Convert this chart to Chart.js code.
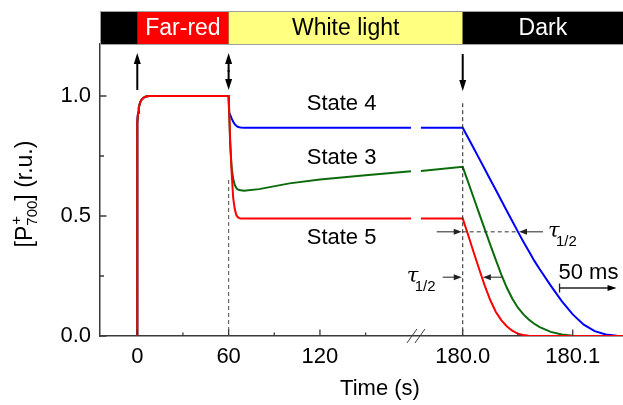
<!DOCTYPE html>
<html>
<head>
<meta charset="utf-8">
<script src="https://cdn.jsdelivr.net/npm/chart.js@4.4.1/dist/chart.umd.min.js"></script>
<style>
  html, body { margin: 0; padding: 0; background: #fff; }
  #chart { display: block; }
</style>
</head>
<body>
<canvas id="chart" width="623" height="405"></canvas>
<script>
// Far-red rise, shared by all three states (s)
const riseTime  = [0, 0, 0.5, 1, 1.5, 2, 3, 4, 5, 6.5, 8];
const riseLevel = [0, 0.89, 0.93, 0.952, 0.965, 0.975, 0.986, 0.992, 0.996, 0.999, 1.0];

// White light (s)
const lightTime   = [60, 60.3, 61, 62, 63, 64, 65, 66, 67, 68, 70, 80, 100, 120, 150, 179.8];
const state4Light = [1.0, 0.93, 0.922, 0.907, 0.893, 0.883, 0.876, 0.872, 0.870, 0.869, 0.868, 0.868, 0.868, 0.868, 0.868, 0.868];
const state3Light = [1.0, 0.95, 0.80, 0.70, 0.655, 0.63, 0.617, 0.611, 0.608, 0.607, 0.605, 0.612, 0.636, 0.652, 0.670, 0.686];
const state5Light = [1.0, 0.95, 0.82, 0.68, 0.575, 0.53, 0.505, 0.495, 0.491, 0.49, 0.49, 0.49, 0.49, 0.49, 0.49, 0.49];

// Dark relaxation, ms after the light goes off
const darkTime   = [-38, 0, 5, 10, 15, 20, 25, 30, 35, 40, 45, 50, 55, 60, 65, 70, 80, 90, 100, 110, 120, 130, 140, 146];
const state4Dark = [0.868, 0.868, 0.825, 0.782, 0.739, 0.696, 0.652, 0.609, 0.566, 0.522, 0.479, 0.436, 0.394, 0.354, 0.314, 0.278, 0.210, 0.145, 0.090, 0.047, 0.020, 0.006, 0.001, 0];
const state3Dark = [0.688, 0.705, 0.640, 0.575, 0.510, 0.445, 0.381, 0.318, 0.257, 0.202, 0.156, 0.119, 0.091, 0.069, 0.051, 0.037, 0.017, 0.006, 0.001, 0, 0, 0, 0, 0];
const state5Dark = [0.49, 0.49, 0.42, 0.348, 0.278, 0.210, 0.150, 0.101, 0.066, 0.041, 0.022, 0.010, 0.004, 0.001, 0, 0, 0, 0, 0, 0, 0, 0, 0, 0];

const stateNames  = ['State 5', 'State 3', 'State 4'];
const stateColors = ['#ff0000', '#0b6b0b', '#0000ff'];

// light regime bar
const phaseNames  = ['Far-red', 'White light', 'Dark'];
const phaseStart  = [0, 60, 180];
const phaseFill   = ['#ff0000', '#ffff80', '#000000'];
const phaseInk    = ['#ffffff', '#000000', '#ffffff'];

const xTickTimes  = [0, 60, 120, 180, 180.1];
const xTickLabels = ['0', '60', '120', '180.0', '180.1'];
const xMinorTimes = [30, 90, 150, 180.05];
const yTickValues = [0, 0.5, 1.0];
const yMinorValues = [0.25, 0.75];

// broken time axis: seconds up to the break, then a stretched ms scale
const darkOrigin = 213.8;
const msUnit = 0.7228;
const darkAxis = ms => darkOrigin + ms * msUnit;
const toAxis = s => s < 180 ? s : darkAxis((s - 180) * 1000);

const sans = '"Liberation Sans", Arial, sans-serif';
const axisColor = '#3a3a3a';

function series(light, dark) {
  const pts = riseTime.map((t, i) => ({x: toAxis(t), y: riseLevel[i]}));
  lightTime.forEach((t, i) => pts.push({x: toAxis(t), y: light[i]}));
  pts.push({x: (toAxis(lightTime[lightTime.length - 1]) + darkAxis(darkTime[0])) / 2, y: null});
  darkTime.forEach((ms, i) => pts.push({x: darkAxis(ms), y: dark[i]}));
  return pts;
}

// time (ms) where a decay first falls to the given level
function crossing(levels, target) {
  for (let i = 1; i < darkTime.length - 1; i++) {
    if (levels[i] >= target && levels[i + 1] < target) {
      const f = (levels[i] - target) / (levels[i] - levels[i + 1]);
      return darkTime[i] + f * (darkTime[i + 1] - darkTime[i]);
    }
  }
  return darkTime[darkTime.length - 1];
}

function arrow(ctx, x1, y1, x2, y2, head, half) {
  const a = Math.atan2(y2 - y1, x2 - x1);
  const c = Math.cos(a), s = Math.sin(a);
  ctx.beginPath();
  ctx.moveTo(x1, y1);
  ctx.lineTo(x2 - c * head * 0.7, y2 - s * head * 0.7);
  ctx.stroke();
  ctx.beginPath();
  ctx.moveTo(x2, y2);
  ctx.lineTo(x2 - head * c + half * s, y2 - head * s - half * c);
  ctx.lineTo(x2 - head * c - half * s, y2 - head * s + half * c);
  ctx.closePath();
  ctx.fill();
}

const decorations = {
  id: 'decorations',
  afterDatasetsDraw(chart) {
    const {ctx, chartArea: area, scales: {x, y}} = chart;
    const px = v => x.getPixelForValue(v);
    const py = v => y.getPixelForValue(v);
    ctx.save();

    // light regime bar
    const barTop = 11;
    ctx.fillStyle = '#000';
    ctx.fillRect(area.left, barTop, area.right - area.left, area.top - barTop);
    ctx.font = '23px ' + sans;
    ctx.textAlign = 'center';
    ctx.textBaseline = 'middle';
    phaseNames.forEach((name, i) => {
      const x0 = px(toAxis(phaseStart[i]));
      const x1 = i + 1 < phaseStart.length ? px(toAxis(phaseStart[i + 1])) : area.right;
      ctx.fillStyle = phaseFill[i];
      ctx.fillRect(x0, barTop, x1 - x0, area.top - barTop);
      ctx.fillStyle = phaseInk[i];
      ctx.fillText(name, (x0 + x1) / 2, (barTop + area.top) / 2 + 1);
    });
    ctx.strokeStyle = '#a0a0a0';
    ctx.lineWidth = 1;
    ctx.strokeRect(area.left + 0.5, barTop + 0.5, area.right - area.left, area.top - barTop);

    // switching arrows
    ctx.strokeStyle = '#000';
    ctx.fillStyle = '#000';
    ctx.lineWidth = 2;
    const xOn = px(toAxis(0)), xWhite = px(toAxis(60)), xOff = px(darkAxis(0));
    arrow(ctx, xOn, area.top + 46, xOn, area.top + 9, 11, 3.5);
    arrow(ctx, xWhite, area.top + 28, xWhite, area.top + 9, 11, 3.5);
    arrow(ctx, xWhite, area.top + 26, xWhite, area.top + 46, 11, 3.5);
    arrow(ctx, xOff, area.top + 10, xOff, area.top + 47, 11, 3.5);

    // dashed markers at the light switches
    ctx.lineWidth = 1.2;
    ctx.setLineDash([4, 3]);
    ctx.strokeStyle = '#6a6a6a';
    ctx.beginPath();
    ctx.moveTo(xWhite, py(0.65));
    ctx.lineTo(xWhite, area.bottom);
    ctx.stroke();
    ctx.strokeStyle = '#222';
    ctx.lineWidth = 1;
    ctx.beginPath();
    ctx.moveTo(xOff, py(0.97));
    ctx.lineTo(xOff, area.bottom);
    ctx.stroke();

    // half-time of State 4
    const half4 = state4Dark[1] / 2;
    const x4 = px(darkAxis(crossing(state4Dark, half4)));
    const yHalf4 = py(half4);
    ctx.strokeStyle = '#333';
    ctx.beginPath();
    ctx.moveTo(xOff, yHalf4);
    ctx.lineTo(x4, yHalf4);
    ctx.stroke();
    ctx.setLineDash([]);
    ctx.fillStyle = '#222';
    ctx.strokeStyle = '#222';
    arrow(ctx, xOff - 26, yHalf4, xOff - 1, yHalf4, 8, 3);
    arrow(ctx, x4 + 25, yHalf4, x4 + 1, yHalf4, 8, 3);

    // half-time of State 5 vs State 3
    const half5 = state5Dark[1] / 2;
    const yHalf5 = py(half5);
    const x5 = px(darkAxis(crossing(state5Dark, half5)));
    const x3 = px(darkAxis(crossing(state3Dark, half5)));
    arrow(ctx, xOff - 20, yHalf5, xOff - 1, yHalf5, 8, 3);
    arrow(ctx, x3, yHalf5, x5 + 1, yHalf5, 8, 3);

    // tau labels
    const tau = (tx, ty) => {
      ctx.fillStyle = '#000';
      ctx.textAlign = 'left';
      ctx.textBaseline = 'alphabetic';
      ctx.font = 'italic 21px "DejaVu Serif", "Liberation Serif", serif';
      ctx.fillText('\u03c4', tx, ty);
      ctx.font = '15px ' + sans;
      ctx.fillText('1/2', tx + 8, ty + 9);
    };
    tau(x4 + 30, yHalf4 + 5);
    tau(xOff - 56, yHalf5 + 5);

    // 50 ms scale bar
    const sb0 = px(darkAxis(88)), sb1 = px(darkAxis(138));
    const sbY = py(0.2);
    ctx.lineWidth = 1.3;
    ctx.beginPath();
    ctx.moveTo(sb0, sbY - 4.5);
    ctx.lineTo(sb0, sbY + 4.5);
    ctx.stroke();
    arrow(ctx, sb0, sbY, sb1 + 2, sbY, 9, 3);
    ctx.font = '22px ' + sans;
    ctx.textAlign = 'left';
    ctx.fillText('50 ms', sb0 - 1, sbY - 9);

    // state labels
    ctx.fillStyle = '#000';
    ctx.font = '22px ' + sans;
    ctx.textBaseline = 'middle';
    const labelX = px(111.3);
    ctx.fillText(stateNames[2], labelX, py(0.968));
    ctx.fillText(stateNames[1], labelX, py(0.744));
    ctx.fillText(stateNames[0], labelX, py(0.41));

    // inward tick marks
    ctx.strokeStyle = axisColor;
    ctx.lineWidth = 1.3;
    ctx.beginPath();
    xTickTimes.forEach(t => { const p = px(toAxis(t)); ctx.moveTo(p, area.bottom); ctx.lineTo(p, area.bottom - 6.5); });
    xMinorTimes.forEach(t => { const p = px(toAxis(t)); ctx.moveTo(p, area.bottom); ctx.lineTo(p, area.bottom - 3.5); });
    yTickValues.forEach(v => { const p = py(v); ctx.moveTo(area.left, p); ctx.lineTo(area.left + 6.5, p); });
    yMinorValues.forEach(v => { const p = py(v); ctx.moveTo(area.left, p); ctx.lineTo(area.left + 4, p); });
    ctx.stroke();

    // axis break
    const xb = px((toAxis(179.8) + darkAxis(darkTime[0])) / 2);
    ctx.lineWidth = 1;
    ctx.beginPath();
    ctx.moveTo(xb - 9, area.bottom + 7); ctx.lineTo(xb + 1, area.bottom - 7);
    ctx.moveTo(xb - 1, area.bottom + 7); ctx.lineTo(xb + 9, area.bottom - 7);
    ctx.stroke();

    // axis titles
    ctx.fillStyle = '#000';
    ctx.font = '22px ' + sans;
    ctx.textAlign = 'center';
    ctx.textBaseline = 'alphabetic';
    ctx.fillText('Time (s)', 380, 395);

    ctx.translate(32, 194);
    ctx.rotate(-Math.PI / 2);
    ctx.textAlign = 'left';
    const big = '23px ' + sans, small = '15px ' + sans;
    ctx.font = big;
    const wA = ctx.measureText('[P').width;
    const wC = ctx.measureText('] (r.u.)').width;
    ctx.font = small;
    const wB = Math.max(ctx.measureText('700').width, ctx.measureText('+').width);
    let cx = -(wA + wB + wC) / 2;
    ctx.font = big;
    ctx.fillText('[P', cx, 0);
    cx += wA;
    ctx.font = small;
    ctx.fillText('+', cx + 1, -11);
    ctx.fillText('700', cx, 5);
    cx += wB;
    ctx.font = big;
    ctx.fillText('] (r.u.)', cx, 0);

    ctx.restore();
  }
};

new Chart(document.getElementById('chart'), {
  type: 'line',
  data: {
    datasets: stateNames.map((name, i) => ({
      label: name,
      data: series([state5Light, state3Light, state4Light][i], [state5Dark, state3Dark, state4Dark][i]),
      borderColor: stateColors[i],
      borderWidth: 2,
      pointRadius: 0,
      tension: 0,
      spanGaps: false
    }))
  },
  options: {
    responsive: false,
    animation: false,
    devicePixelRatio: 1,
    layout: {padding: {top: 44, left: 0, right: 0, bottom: 0}},
    plugins: {legend: {display: false}, tooltip: {enabled: false}},
    scales: {
      x: {
        type: 'linear',
        min: -24.5,
        max: 319.1,
        afterBuildTicks: s => { s.ticks = xTickTimes.map(t => ({value: toAxis(t)})); },
        afterFit: s => { s.height = 69; },
        grid: {display: false, drawTicks: false},
        border: {display: true, color: axisColor, width: 1.5},
        ticks: {
          callback: (v, i) => xTickLabels[i],
          font: {family: sans, size: 22},
          color: '#000',
          padding: 8,
          maxRotation: 0,
          autoSkip: false
        }
      },
      y: {
        type: 'linear',
        min: 0,
        max: 1.2167,
        afterBuildTicks: s => { s.ticks = yTickValues.map(v => ({value: v})); },
        afterFit: s => { s.width = 100; },
        grid: {display: false, drawTicks: false},
        border: {display: true, color: axisColor, width: 1.5},
        ticks: {
          callback: v => v.toFixed(1),
          font: {family: sans, size: 22},
          color: '#000',
          padding: 9
        }
      }
    }
  },
  plugins: [decorations]
});
</script>
</body>
</html>
